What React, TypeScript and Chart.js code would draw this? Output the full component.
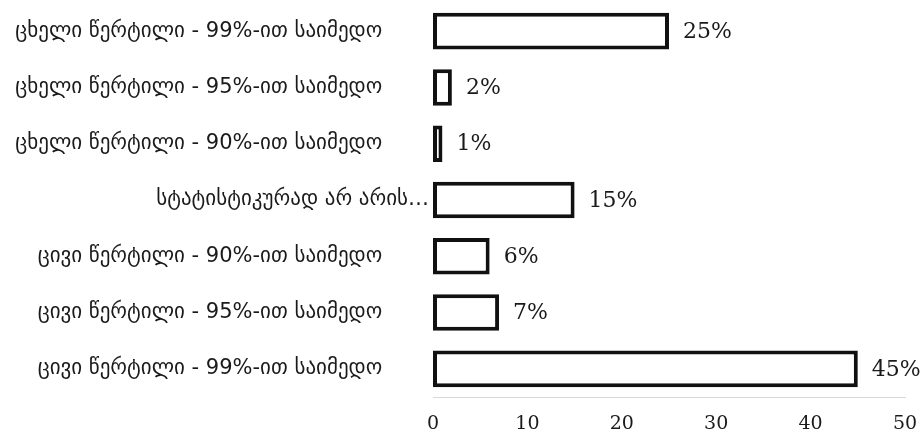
import React, { useEffect, useRef } from "react";
import { Chart, registerables } from "chart.js";

Chart.register(...registerables);

const categories = [
  "ცხელი წერტილი - 99%-ით საიმედო",
  "ცხელი წერტილი - 95%-ით საიმედო",
  "ცხელი წერტილი - 90%-ით საიმედო",
  "სტატისტიკურად არ არის…",
  "ცივი წერტილი - 90%-ით საიმედო",
  "ცივი წერტილი - 95%-ით საიმედო",
  "ცივი წერტილი - 99%-ით საიმედო",
];
const values = [25, 2, 1, 15, 6, 7, 45];
const valueLabels = ["25%", "2%", "1%", "15%", "6%", "7%", "45%"];
const xTicks = [0, 10, 20, 30, 40, 50];

const labelPlugin = {
  id: "valueLabels",
  afterDatasetsDraw(chart: any) {
    const ctx = chart.ctx;
    const meta = chart.getDatasetMeta(0);
    ctx.save();
    ctx.font = '22px "DejaVu Serif", serif';
    ctx.fillStyle = "#1a1a1a";
    ctx.textAlign = "left";
    ctx.textBaseline = "middle";
    meta.data.forEach((bar: any, i: number) => {
      ctx.fillText(valueLabels[i], bar.x + 14, bar.y + 1);
    });
    ctx.restore();
  },
};

export default function App() {
  const ref = useRef<HTMLCanvasElement | null>(null);
  useEffect(() => {
    if (!ref.current) return;
    const chart = new Chart(ref.current, {
      type: "bar",
      data: {
        labels: categories,
        datasets: [
          {
            data: values,
            backgroundColor: "#ffffff",
            borderColor: "#111111",
            borderWidth: 4,
            borderSkipped: false,
            categoryPercentage: 0.65,
            barPercentage: 1,
          },
        ],
      },
      options: {
        indexAxis: "y",
        animation: false,
        responsive: true,
        maintainAspectRatio: false,
        layout: { padding: { top: 3, right: 19, left: 0, bottom: 0 } },
        plugins: { legend: { display: false }, tooltip: { enabled: false } },
        scales: {
          x: {
            min: 0,
            max: 50,
            afterBuildTicks: (scale: any) => {
              scale.ticks = xTicks.map((v) => ({ value: v }));
            },
            grid: { display: false, drawTicks: false },
            border: { display: true, color: "#d9d9d9", width: 1 },
            ticks: {
              padding: 16,
              color: "#1a1a1a",
              font: { family: '"DejaVu Serif", serif', size: 19 },
            },
            afterFit: (scale: any) => {
              scale.height = 46;
              scale.paddingLeft = 0;
              scale.paddingRight = 0;
            },
          },
          y: {
            grid: { display: false, drawTicks: false },
            border: { display: false },
            ticks: {
              padding: 4,
              color: "#1a1a1a",
              font: { family: '"DejaVu Sans", sans-serif', size: 21 },
              callback: (_v: any, i: number) =>
                categories[i].endsWith("…") ? categories[i] : categories[i] + "\u00a0\u00a0\u00a0\u00a0\u00a0\u00a0\u00a0",
            },
            afterFit: (scale: any) => {
              scale.width = 433;
              scale.paddingTop = 0;
              scale.paddingBottom = 0;
            },
          },
        },
      },
      plugins: [labelPlugin],
    });
    return () => chart.destroy();
  }, []);
  return (
    <div style={{ position: "fixed", left: 0, top: 0, width: 924, height: 443, background: "#fff" }}>
      <canvas ref={ref} />
    </div>
  );
}
